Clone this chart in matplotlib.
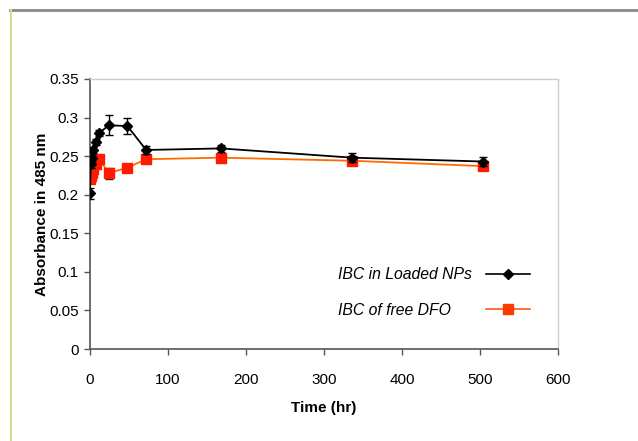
import matplotlib
matplotlib.use("Agg")
import matplotlib.pyplot as plt
from matplotlib.lines import Line2D

plt.rcParams['font.family'] = ['Liberation Sans', 'DejaVu Sans']

time_loaded = [0, 1, 2, 4, 8, 12, 24, 48, 72, 168, 336, 504]
abs_loaded = [0.202, 0.240, 0.248, 0.258, 0.268, 0.280, 0.290, 0.289, 0.258, 0.260, 0.248, 0.243]
err_loaded = [0.007, 0.005, 0.004, 0.004, 0.004, 0.004, 0.013, 0.010, 0.005, 0.005, 0.006, 0.006]

time_free = [0, 1, 2, 4, 8, 12, 24, 48, 72, 168, 336, 504]
abs_free = [0.220, 0.224, 0.228, 0.233, 0.240, 0.246, 0.228, 0.235, 0.246, 0.248, 0.244, 0.237]
err_free = [0.004, 0.004, 0.004, 0.004, 0.004, 0.004, 0.007, 0.004, 0.005, 0.004, 0.005, 0.005]

label_loaded = "IBC in Loaded NPs"
label_free = "IBC of free DFO"

fig = plt.figure(figsize=(6.38, 4.41), dpi=100)
ax = fig.add_axes([0.141, 0.2086, 0.734, 0.6123])

ax.errorbar(time_free, abs_free, yerr=err_free, color='#FF6A00', lw=1.3,
            marker='s', ms=7, mfc='#FF1A00', mec='#FF1A00',
            ecolor='#222222', elinewidth=1, capsize=3, zorder=2)
ax.errorbar(time_loaded, abs_loaded, yerr=err_loaded, color='black', lw=1.3,
            marker='D', ms=5, mfc='black', mec='black',
            ecolor='black', elinewidth=1, capsize=3, zorder=3)

ax.set_xlim(0, 600)
ax.set_ylim(0, 0.35)
ax.set_xticks([0, 100, 200, 300, 400, 500, 600])
ax.set_yticks([0, 0.05, 0.1, 0.15, 0.2, 0.25, 0.3, 0.35])
ax.set_yticklabels(['0', '0.05', '0.1', '0.15', '0.2', '0.25', '0.3', '0.35'])
ax.tick_params(axis='both', direction='out', length=4, width=1, color='#555555',
               labelsize=11, pad=4)
ax.tick_params(axis='x', pad=13)
for s in ['left', 'bottom']:
    ax.spines[s].set_color('#555555')
    ax.spines[s].set_linewidth(1.2)
for s in ['top', 'right']:
    ax.spines[s].set_color('#cccccc')
    ax.spines[s].set_linewidth(1)

ax.set_xlabel('Time (hr)', fontsize=11, fontweight='bold', labelpad=10)
ax.set_ylabel('Absorbance in 485 nm', fontsize=11, fontweight='bold', labelpad=0)

fs = 11.3
h_loaded = Line2D([], [], color='black', lw=1.2, marker='D', ms=5, mfc='black', mec='black')
h_free = Line2D([], [], color='#FF5A10', lw=1.2, marker='s', ms=7, mfc='#FF3A00', mec='#FF3A00')
leg = ax.legend([h_loaded, h_free], [label_loaded, label_free],
                loc='upper left', bbox_to_anchor=(0.50, 0.355), frameon=False,
                markerfirst=False, handlelength=2.8, handletextpad=0.9, labelspacing=1.3,
                prop={'style': 'italic', 'size': fs})

# align both text (left) and handles (same x) like the original legend
fig.canvas.draw()
renderer = fig.canvas.get_renderer()
texts = leg.get_texts()
widths = [t.get_window_extent(renderer).width * 72.0 / fig.dpi for t in texts]
maxw = max(widths)
for col in leg._legend_handle_box.get_children():
    col.align = 'left'
    for item, w in zip(col.get_children(), widths):
        item.sep = item.sep + (maxw - w)

# outer border decoration
fig.add_artist(Line2D([10/638, 1], [1 - 10/441, 1 - 10/441], transform=fig.transFigure,
                      color='#888888', lw=2))
fig.add_artist(Line2D([11/638, 11/638], [0, 1 - 10/441], transform=fig.transFigure,
                      color='#d8d890', lw=1.5))

fig.savefig('out.png', dpi=100)
